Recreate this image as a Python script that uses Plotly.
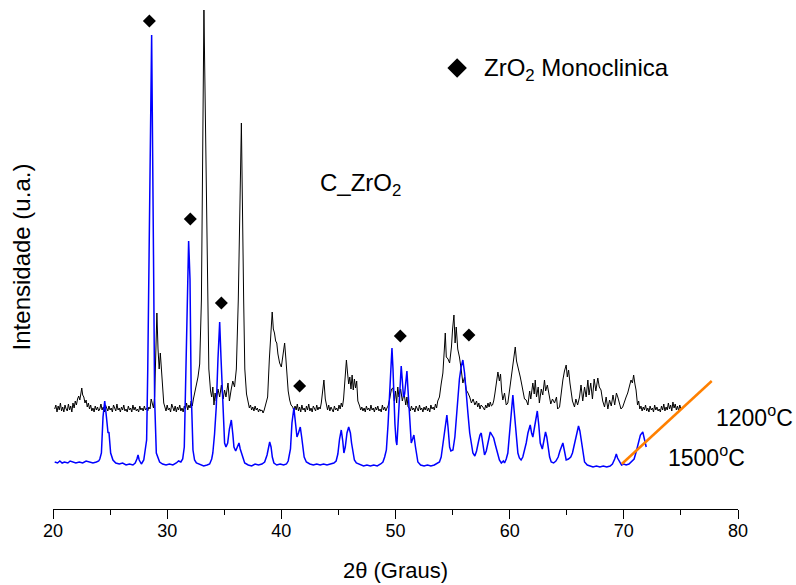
import plotly.graph_objects as go

# ---------------- data ----------------
# 2theta (deg), intensity (a.u.)
pattern_1200C = [
    (20.15,100),(20.25,104),(20.35,97),(20.45,103),(20.55,99),(20.65,106),(20.75,98),(20.85,102),(20.95,97),
    (21.05,104),(21.15,100),(21.25,98),(21.35,105),(21.45,99),(21.55,103),(21.65,97),(21.75,106),(21.85,101),
    (21.95,108),(22.05,104),(22.15,110),(22.25,113),(22.35,109),(22.45,116),(22.52,121),(22.6,114),(22.7,112),
    (22.8,106),(22.9,109),(23.0,102),(23.1,106),(23.2,100),(23.3,104),(23.4,98),(23.5,101),(23.6,97),(23.7,103),
    (23.8,99),(23.9,102),(24.0,98),(24.1,100),(24.2,105),(24.3,99),(24.4,102),(24.5,97),(24.6,104),(24.7,100),
    (24.8,98),(24.9,103),(25.0,99),(25.1,101),(25.2,97),(25.3,104),(25.4,100),(25.5,98),(25.6,105),(25.7,99),
    (25.8,101),(25.9,97),(26.0,102),(26.1,99),(26.2,104),(26.3,98),(26.4,100),(26.5,97),(26.6,103),(26.7,99),
    (26.8,101),(26.9,97),(27.0,104),(27.1,99),(27.2,102),(27.3,98),(27.4,100),(27.5,97),(27.6,103),(27.7,99),
    (27.8,101),(27.9,98),(28.0,103),(28.1,99),(28.2,101),(28.3,98),(28.4,102),(28.5,100),(28.6,110),(28.7,104),
    (28.8,101),(28.9,112),(29.0,150),(29.1,196),(29.2,160),(29.3,140),(29.4,156),(29.5,135),(29.6,118),(29.7,106),
    (29.8,102),(29.9,98),(30.0,104),(30.1,99),(30.2,101),(30.3,97),(30.4,105),(30.5,100),(30.6,98),(30.7,103),
    (30.8,97),(30.9,102),(31.0,99),(31.1,104),(31.2,98),(31.3,101),(31.4,97),(31.5,103),(31.6,100),(31.7,106),
    (31.8,99),(31.9,104),(32.0,101),(32.1,108),(32.2,103),(32.3,110),(32.45,118),(32.56,126),(32.7,132),
    (32.85,145),(33.0,209),(33.22,499),(33.52,209),(33.65,140),(33.8,118),(33.9,112),(34.0,122),(34.1,104),
    (34.2,116),(34.3,108),(34.45,120),(34.6,112),(34.75,124),(34.9,110),(35.03,119),(35.15,112),(35.33,126),
    (35.45,108),(35.6,119),(35.75,128),(35.9,122),(36.06,140),(36.23,209),(36.5,386),(36.7,209),(36.8,140),
    (36.95,115),(37.1,106),(37.2,101),(37.3,104),(37.4,99),(37.5,102),(37.6,98),(37.7,103),(37.8,99),(37.9,101),
    (38.0,97),(38.1,100),(38.2,98),(38.3,99),(38.4,96),(38.5,99),(38.6,103),(38.7,106),(38.8,112),(38.95,150),
    (39.1,185),(39.2,197),(39.3,180),(39.4,176),(39.5,168),(39.6,166),(39.7,155),(39.85,146),(40.0,142),(40.1,150),
    (40.2,160),(40.29,166),(40.4,150),(40.5,129),(40.6,118),(40.73,109),(40.85,104),(41.0,102),(41.1,98),(41.2,103),
    (41.3,99),(41.4,105),(41.5,98),(41.6,102),(41.7,97),(41.8,104),(41.9,99),(42.0,101),(42.1,97),(42.2,103),
    (42.3,99),(42.4,105),(42.5,98),(42.6,101),(42.7,97),(42.8,103),(42.9,100),(43.0,98),(43.1,104),(43.2,99),
    (43.3,102),(43.4,100),(43.5,106),(43.6,115),(43.73,129),(43.85,110),(43.95,102),(44.05,99),(44.15,104),
    (44.25,98),(44.35,102),(44.45,100),(44.55,97),(44.65,103),(44.75,99),(44.85,101),(44.95,98),(45.05,104),
    (45.15,100),(45.25,106),(45.35,102),(45.45,110),(45.55,128),(45.62,140),(45.7,149),(45.8,136),(45.9,125),
    (46.0,132),(46.1,120),(46.2,134),(46.3,119),(46.4,130),(46.5,121),(46.6,128),(46.7,108),(46.86,103),(46.95,99),
    (47.05,102),(47.15,98),(47.25,101),(47.35,97),(47.45,103),(47.55,99),(47.65,101),(47.75,98),(47.85,104),
    (47.95,99),(48.05,101),(48.15,97),(48.25,102),(48.35,99),(48.45,103),(48.55,98),(48.65,100),(48.75,97),
    (48.85,104),(48.95,99),(49.05,102),(49.15,98),(49.25,101),(49.35,103),(49.45,108),(49.55,113),(49.65,120),
    (49.77,121),(49.9,108),(50.0,118),(50.1,106),(50.2,122),(50.3,112),(50.45,120),(50.6,108),(50.75,116),
    (50.9,104),(51.0,112),(51.1,102),(51.2,101),(51.3,98),(51.4,103),(51.5,99),(51.6,101),(51.7,97),(51.8,103),
    (51.9,100),(52.0,98),(52.1,104),(52.2,99),(52.3,101),(52.4,97),(52.5,102),(52.6,99),(52.7,103),(52.8,98),
    (52.9,101),(53.0,97),(53.1,104),(53.2,100),(53.3,102),(53.4,99),(53.5,105),(53.6,101),(53.7,108),(53.85,112),
    (54.0,125),(54.15,136),(54.28,160),(54.36,176),(54.45,152),(54.6,150),(54.74,146),(54.9,162),(55.0,180),
    (55.12,194),(55.22,166),(55.32,182),(55.45,160),(55.6,152),(55.75,140),(55.9,126),(56.05,132),(56.2,119),
    (56.35,116),(56.5,112),(56.65,106),(56.8,110),(56.95,104),(57.1,108),(57.2,102),(57.3,106),(57.4,100),
    (57.5,104),(57.65,102),(57.8,99),(57.9,104),(58.0,101),(58.1,106),(58.2,102),(58.3,107),(58.4,103),(58.5,104),
    (58.6,108),(58.7,115),(58.85,130),(58.97,137),(59.1,128),(59.2,135),(59.3,118),(59.4,109),(59.55,116),
    (59.7,104),(59.84,106),(60.0,119),(60.1,128),(60.23,139),(60.35,150),(60.49,162),(60.6,148),(60.72,142),
    (60.82,140),(60.93,132),(61.05,125),(61.16,119),(61.3,110),(61.45,109),(61.6,104),(61.75,118),(61.85,110),
    (62.03,126),(62.15,115),(62.24,129),(62.35,112),(62.5,122),(62.6,106),(62.77,120),(62.9,114),(63.05,129),
    (63.15,118),(63.3,124),(63.5,112),(63.6,105),(63.75,110),(63.93,106),(64.1,112),(64.2,100),(64.37,102),
    (64.5,115),(64.66,129),(64.8,138),(64.95,144),(65.05,132),(65.16,139),(65.28,126),(65.39,119),(65.5,108),
    (65.68,102),(65.8,110),(65.95,104),(66.12,112),(66.25,124),(66.4,108),(66.56,122),(66.7,112),(66.85,129),
    (66.95,114),(67.1,126),(67.25,110),(67.4,130),(67.55,118),(67.72,131),(67.85,122),(68.0,119),(68.15,108),
    (68.31,102),(68.45,112),(68.6,100),(68.75,109),(68.9,103),(69.05,114),(69.2,104),(69.35,116),(69.47,112),
    (69.6,106),(69.75,100),(69.9,102),(70.05,108),(70.2,112),(70.34,116),(70.5,124),(70.63,129),(70.75,126),
    (70.86,134),(70.97,125),(71.07,119),(71.2,104),(71.3,108),(71.4,100),(71.5,103),(71.6,98),(71.7,102),
    (71.8,99),(71.9,104),(72.0,98),(72.1,101),(72.2,97),(72.3,103),(72.4,99),(72.5,101),(72.6,97),(72.7,104),
    (72.8,99),(72.9,102),(73.0,98),(73.1,100),(73.2,97),(73.3,103),(73.4,99),(73.5,105),(73.6,98),(73.7,102),
    (73.8,99),(73.9,106),(74.0,100),(74.1,104),(74.2,98),(74.3,107),(74.4,101),(74.5,105),(74.6,99),(74.7,103),
    (74.8,98),(74.9,104),(75.0,100),
]

pattern_1500C = [
    (20.15,47),(20.4,46),(20.6,48),(20.8,46),(21.0,47),(21.3,46),(21.5,48),(21.8,47),(22.0,46),(22.3,47),
    (22.6,46),(22.9,48),(23.2,47),(23.5,46),(23.8,47),(24.0,48),(24.1,50),(24.24,56),(24.38,92),(24.53,108),
    (24.68,92),(24.82,76),(24.9,77),(25.05,56),(25.25,49),(25.5,46),(25.8,45),(26.1,46),(26.4,44),(26.7,45),
    (27.0,44),(27.2,46),(27.35,50),(27.45,54),(27.55,49),(27.74,45),(27.95,49),(28.1,60),(28.2,69),(28.3,140),
    (28.38,230),(28.64,474),(28.82,230),(28.9,110),(29.05,56),(29.34,47),(29.6,45),(29.9,44),(30.2,45),(30.5,44),
    (30.8,46),(31.0,48),(31.2,47),(31.36,50),(31.5,62),(31.65,150),(31.75,230),(31.88,268),(32.0,230),(32.1,120),
    (32.26,59),(32.4,49),(32.56,46),(32.9,44),(33.2,43),(33.5,44),(33.72,45),(33.9,50),(34.0,56),(34.15,75),
    (34.3,102),(34.45,150),(34.6,187),(34.72,150),(34.83,119),(34.95,80),(35.03,66),(35.15,62),(35.3,66),
    (35.45,80),(35.62,89),(35.75,75),(35.85,62),(36.0,58),(36.15,62),(36.29,66),(36.4,60),(36.5,56),(36.65,49),
    (36.79,46),(37.1,44),(37.4,43),(37.7,45),(38.0,44),(38.3,45),(38.54,47),(38.75,54),(38.9,64),(38.98,67),
    (39.1,62),(39.21,52),(39.35,46),(39.6,44),(39.9,45),(40.2,44),(40.45,45),(40.6,48),(40.8,60),(40.93,86),
    (41.1,101),(41.25,86),(41.37,72),(41.5,76),(41.66,82),(41.78,72),(41.89,62),(42.0,52),(42.19,47),(42.5,45),
    (42.8,44),(43.1,45),(43.4,44),(43.7,45),(44.0,44),(44.3,45),(44.6,46),(44.8,48),(44.95,55),(45.1,70),
    (45.25,79),(45.38,68),(45.48,56),(45.6,62),(45.75,76),(45.9,82),(46.05,76),(46.15,66),(46.27,56),(46.4,49),
    (46.57,46),(46.9,44),(47.2,43),(47.5,44),(47.8,43),(48.1,44),(48.4,43),(48.7,45),(48.9,47),(49.05,52),
    (49.2,59),(49.35,85),(49.48,119),(49.6,150),(49.69,161),(49.78,140),(49.86,110),(49.95,85),(50.05,68),
    (50.12,64),(50.2,80),(50.3,102),(50.4,130),(50.5,143),(50.6,128),(50.7,112),(50.8,115),(50.9,130),(51.0,138),
    (51.1,118),(51.23,88),(51.38,66),(51.5,70),(51.61,74),(51.75,62),(51.85,52),(51.96,47),(52.2,44),(52.5,43),
    (52.8,44),(53.1,43),(53.4,44),(53.6,45),(53.85,47),(54.0,52),(54.15,64),(54.3,78),(54.4,88),(54.5,94),
    (54.6,82),(54.74,62),(54.85,58),(55.03,59),(55.2,72),(55.35,95),(55.47,115),(55.6,130),(55.75,142),(55.9,149),
    (56.05,136),(56.2,119),(56.35,95),(56.5,76),(56.65,64),(56.78,56),(56.95,53),(57.1,58),(57.28,68),(57.4,74),
    (57.51,76),(57.65,66),(57.8,54),(57.95,58),(58.1,68),(58.2,74),(58.3,77),(58.45,74),(58.6,71),(58.75,64),
    (58.97,54),(59.1,49),(59.27,46),(59.45,48),(59.55,46),(59.7,50),(59.84,56),(59.95,72),(60.08,90),(60.18,105),
    (60.28,114),(60.38,100),(60.49,84),(60.6,68),(60.72,56),(60.85,51),(61.0,49),(61.15,52),(61.3,58),(61.45,66),
    (61.6,76),(61.8,84),(61.92,76),(62.03,72),(62.15,80),(62.3,92),(62.42,98),(62.55,84),(62.68,66),(62.86,60),
    (63.0,70),(63.14,77),(63.25,72),(63.4,60),(63.5,52),(63.64,47),(63.85,46),(64.05,48),(64.25,52),(64.4,58),
    (64.55,64),(64.66,66),(64.8,58),(64.95,49),(65.15,50),(65.35,52),(65.5,56),(65.68,66),(65.85,76),(66.03,83),
    (66.15,78),(66.3,66),(66.45,54),(66.56,47),(66.8,44),(67.0,43),(67.3,42),(67.6,43),(67.9,42),(68.2,43),
    (68.5,42),(68.8,43),(69.0,45),(69.2,50),(69.34,55),(69.45,51),(69.63,47),(69.8,44),(70.0,45),(70.2,44),
    (70.45,45),(70.65,47),(70.9,50),(71.1,58),(71.3,68),(71.45,74),(71.66,77),(71.8,70),(71.96,62),
]

# ZrO2 monoclinic reflections marked with diamonds
monoclinic_2theta = [28.44, 32.03, 34.75, 41.6, 50.42, 56.43]
monoclinic_marker_y = [488, 290, 206, 123, 173, 174]

# orange guide line
guide_2theta = [69.82, 77.7]
guide_y = [45, 128]

# legend symbol position (data units)
legend_symbol_x = [55.4]
legend_symbol_y = [441]

x_ticks = [20, 30, 40, 50, 60, 70, 80]

FONT = "Liberation Sans, Arial, Helvetica, sans-serif"

fig = go.Figure()

fig.add_trace(go.Scatter(
    x=[p[0] for p in pattern_1200C], y=[p[1] for p in pattern_1200C],
    mode="lines", line=dict(color="black", width=1), name="1200°C", showlegend=False))

fig.add_trace(go.Scatter(
    x=[p[0] for p in pattern_1500C], y=[p[1] for p in pattern_1500C],
    mode="lines", line=dict(color="#0000FF", width=1.5), name="1500°C", showlegend=False))

fig.add_trace(go.Scatter(
    x=guide_2theta, y=guide_y, mode="lines",
    line=dict(color="#FF8000", width=2.5), showlegend=False, hoverinfo="skip"))

fig.add_trace(go.Scatter(
    x=monoclinic_2theta, y=monoclinic_marker_y, mode="markers",
    marker=dict(symbol="diamond", size=10, color="black"),
    name="ZrO2 Monoclinica", showlegend=False))

fig.add_trace(go.Scatter(
    x=legend_symbol_x, y=legend_symbol_y, mode="markers",
    marker=dict(symbol="diamond", size=15, color="black"),
    showlegend=False, hoverinfo="skip"))

annotations = [
    dict(x=57.55, y=440, text="ZrO<sub>2</sub> Monoclinica", xanchor="left", yanchor="middle",
         font=dict(size=24)),
    dict(x=43.2, y=325, text="C_ZrO<sub>2</sub>", xanchor="left", yanchor="middle",
         font=dict(size=24)),
    dict(x=77.94, y=93, text="1200<sup>o</sup>C", xanchor="left", yanchor="middle",
         font=dict(size=23)),
    dict(x=73.7, y=53, text="1500<sup>o</sup>C", xanchor="left", yanchor="middle",
         font=dict(size=23)),
]
for a in annotations:
    a.update(xref="x", yref="y", showarrow=False)
    a["font"].update(family=FONT, color="black")

fig.update_layout(
    width=796, height=585, autosize=False,
    margin=dict(l=53, r=58, t=5, b=76),
    paper_bgcolor="white", plot_bgcolor="white",
    font=dict(family=FONT, color="black"),
    annotations=annotations,
    xaxis=dict(
        range=[20, 80], tickvals=x_ticks, ticks="outside", ticklen=9, tickwidth=1.3,
        tickcolor="black", showline=True, linecolor="black", linewidth=1.3,
        showgrid=False, zeroline=False, tickfont=dict(size=18, family=FONT),
        ticklabelstandoff=-4, automargin=False,
        minor=dict(dtick=5, ticks="outside", ticklen=5, tickwidth=1.3, tickcolor="black"),
        title=dict(text="2θ (Graus)", font=dict(size=22, family=FONT), standoff=22),
    ),
    yaxis=dict(
        range=[0, 504], showticklabels=False, ticks="", showline=False,
        showgrid=False, zeroline=False, automargin=False,
        title=dict(text="Intensidade (u.a.)", font=dict(size=24, family=FONT), standoff=14),
    ),
)

fig.write_html("out.html", config={"displayModeBar": False},
               post_script="document.body.style.margin='0px';")
